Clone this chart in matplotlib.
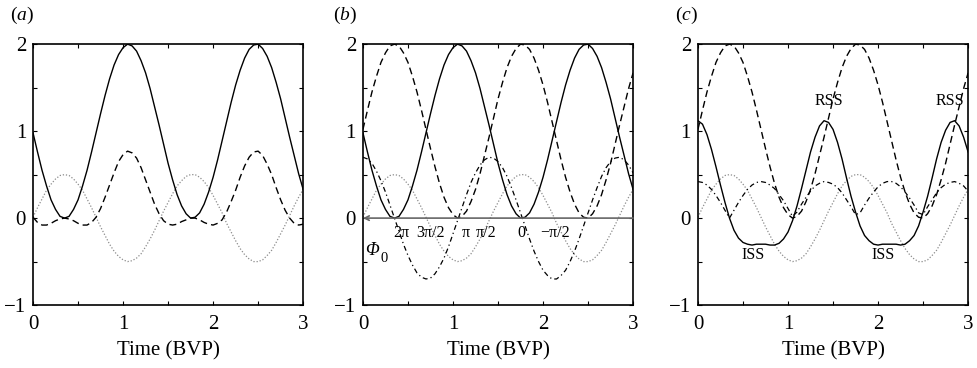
import matplotlib
matplotlib.use('Agg')
import matplotlib.pyplot as plt
from matplotlib.ticker import MultipleLocator, FuncFormatter

plt.rcParams['font.family'] = ['Liberation Serif', 'DejaVu Serif']
plt.rcParams['mathtext.fontset'] = 'custom'
plt.rcParams['mathtext.rm'] = 'Liberation Serif'
plt.rcParams['mathtext.it'] = 'Liberation Serif:italic'

# time axis (BVP), sampled every 0.05
t = [0.00, 0.05, 0.10, 0.15, 0.20, 0.25, 0.30, 0.35, 0.40, 0.45,
     0.50, 0.55, 0.60, 0.65, 0.70, 0.75, 0.80, 0.85, 0.90, 0.95,
     1.00, 1.05, 1.10, 1.15, 1.20, 1.25, 1.30, 1.35, 1.40, 1.45,
     1.50, 1.55, 1.60, 1.65, 1.70, 1.75, 1.80, 1.85, 1.90, 1.95,
     2.00, 2.05, 2.10, 2.15, 2.20, 2.25, 2.30, 2.35, 2.40, 2.45,
     2.50, 2.55, 2.60, 2.65, 2.70, 2.75, 2.80, 2.85, 2.90, 2.95, 3.00]

# dotted grey curve (same in all panels)
forcing = [0.01, 0.12, 0.22, 0.32, 0.39, 0.45, 0.49, 0.50,
           0.49, 0.45, 0.39, 0.32, 0.22, 0.12, 0.01,
           -0.10, -0.20, -0.30, -0.38, -0.44, -0.48, -0.50,
           -0.49, -0.46, -0.41, -0.33, -0.24, -0.14, -0.03,
           0.08, 0.18, 0.28, 0.37, 0.43, 0.48, 0.50,
           0.50, 0.47, 0.42, 0.35, 0.26, 0.16, 0.06,
           -0.06, -0.16, -0.26, -0.35, -0.42, -0.47, -0.50,
           -0.50, -0.48, -0.43, -0.37, -0.28, -0.18, -0.08,
           0.03, 0.14, 0.24, 0.33]

# solid curve in (a) and (b)
solid_ab = [0.98, 0.76, 0.55, 0.37, 0.21, 0.10, 0.02, 0.00,
            0.02, 0.10, 0.21, 0.37, 0.55, 0.76, 0.98,
            1.20, 1.41, 1.60, 1.76, 1.88, 1.96, 2.00,
            1.98, 1.92, 1.81, 1.67, 1.49, 1.28, 1.07,
            0.85, 0.63, 0.44, 0.27, 0.14, 0.05, 0.00,
            0.01, 0.06, 0.16, 0.30, 0.47, 0.67, 0.89,
            1.11, 1.33, 1.53, 1.70, 1.84, 1.94, 1.99,
            2.00, 1.95, 1.86, 1.73, 1.56, 1.37, 1.15,
            0.93, 0.72, 0.51, 0.33]

# dashed curve in (a)
dashed_a = [0.01, -0.05, -0.08, -0.08, -0.06, -0.03, -0.01, 0.00,
            -0.01, -0.03, -0.06, -0.08, -0.08, -0.05, 0.01,
            0.11, 0.24, 0.38, 0.52, 0.65, 0.73, 0.77,
            0.75, 0.69, 0.58, 0.44, 0.30, 0.16, 0.05,
            -0.03, -0.07, -0.08, -0.07, -0.04, -0.02, 0.00,
            0.00, -0.02, -0.05, -0.07, -0.08, -0.06, -0.02,
            0.07, 0.19, 0.32, 0.47, 0.60, 0.70, 0.76,
            0.77, 0.72, 0.62, 0.50, 0.35, 0.21, 0.09,
            0.00, -0.06, -0.08, -0.07]

# dashed curve in (b) and (c)
dashed_bc = [1.02, 1.24, 1.45, 1.63, 1.79, 1.90, 1.98, 2.00,
             1.98, 1.90, 1.79, 1.63, 1.45, 1.24, 1.02,
             0.80, 0.59, 0.40, 0.24, 0.12, 0.04, 0.00,
             0.02, 0.08, 0.19, 0.33, 0.51, 0.72, 0.93,
             1.15, 1.37, 1.56, 1.73, 1.86, 1.95, 2.00,
             1.99, 1.94, 1.84, 1.70, 1.53, 1.33, 1.11,
             0.89, 0.67, 0.47, 0.30, 0.16, 0.06, 0.01,
             0.00, 0.05, 0.14, 0.27, 0.44, 0.63, 0.85,
             1.07, 1.28, 1.49, 1.67]

# dash-dot curve in (b)
dashdot_b = [0.70, 0.68, 0.63, 0.54, 0.43, 0.30, 0.15, 0.00,
             -0.15, -0.30, -0.43, -0.54, -0.63, -0.68, -0.70,
             -0.69, -0.64, -0.56, -0.46, -0.33, -0.18, -0.03,
             0.12, 0.27, 0.41, 0.52, 0.61, 0.67, 0.70,
             0.69, 0.65, 0.58, 0.48, 0.35, 0.21, 0.06,
             -0.09, -0.24, -0.38, -0.50, -0.60, -0.66, -0.70,
             -0.70, -0.66, -0.60, -0.50, -0.38, -0.24, -0.09,
             0.06, 0.21, 0.35, 0.48, 0.58, 0.65, 0.69,
             0.70, 0.67, 0.61, 0.52]

# dash-dot curve in (c)
dashdot_c = [0.42, 0.41, 0.38, 0.33, 0.26, 0.18, 0.09, 0.00,
             0.09, 0.18, 0.26, 0.33, 0.38, 0.41, 0.42,
             0.41, 0.38, 0.34, 0.27, 0.20, 0.11, 0.02,
             0.07, 0.16, 0.24, 0.31, 0.37, 0.40, 0.42,
             0.41, 0.39, 0.35, 0.29, 0.21, 0.13, 0.04,
             0.06, 0.15, 0.23, 0.30, 0.36, 0.40, 0.42,
             0.42, 0.40, 0.36, 0.30, 0.23, 0.15, 0.06,
             0.04, 0.13, 0.21, 0.29, 0.35, 0.39, 0.41,
             0.42, 0.40, 0.37, 0.31]

# solid curve in (c)
solid_c = [1.12, 1.08, 0.96, 0.79, 0.59, 0.38, 0.18, 0.00,
           -0.14, -0.23, -0.28, -0.30, -0.31, -0.30, -0.30,
           -0.30, -0.31, -0.31, -0.29, -0.24, -0.16, -0.03,
           0.14, 0.34, 0.55, 0.76, 0.93, 1.06, 1.12,
           1.10, 1.02, 0.87, 0.68, 0.46, 0.25, 0.07,
           -0.09, -0.20, -0.26, -0.30, -0.31, -0.30, -0.30,
           -0.30, -0.30, -0.31, -0.30, -0.26, -0.20, -0.09,
           0.07, 0.25, 0.46, 0.68, 0.87, 1.01, 1.10,
           1.12, 1.06, 0.93, 0.76]

phase_labels = ['2\u03c0', '3\u03c0/2', '\u03c0', '\u03c0/2', '0', '\u2212\u03c0/2']
phase_pos = [0.43, 0.75, 1.14, 1.37, 1.76, 2.13]

rss_pos = [(1.45, 1.35), (2.80, 1.35)]
iss_pos = [(0.61, -0.43), (2.06, -0.43)]

fig = plt.figure(figsize=(9.77, 3.68), dpi=100)
lefts = [0.0338, 0.3715, 0.7144]
label_x = [-0.085, -0.11, -0.085]
axes = [fig.add_axes([l, 0.171, 0.2765, 0.709]) for l in lefts]

def int_label(v, pos):
    if abs(v - round(v)) < 1e-6:
        return '%d' % round(v) if v >= 0 else '\u2212%d' % abs(round(v))
    return ''

for ax, letter, lx in zip(axes, 'abc', label_x):
    ax.set_xlim(0, 3)
    ax.set_ylim(-1, 2)
    ax.xaxis.set_major_locator(MultipleLocator(0.5))
    ax.yaxis.set_major_locator(MultipleLocator(0.5))
    ax.xaxis.set_major_formatter(FuncFormatter(int_label))
    ax.yaxis.set_major_formatter(FuncFormatter(int_label))
    ax.tick_params(direction='in', length=3, width=0.8, top=True, right=True,
                   labelsize=15)
    ax.tick_params(axis='x', pad=7)
    ax.tick_params(axis='y', pad=5)
    for sp in ax.spines.values():
        sp.set_linewidth(1.2)
    ax.set_xlabel('Time (BVP)', fontsize=15, labelpad=5)
    ax.text(lx, 1.111, '(' + r'$%s$' % letter + ')', transform=ax.transAxes,
            fontsize=14, ha='left', va='center')
    ax.plot(t, forcing, color='0.55', lw=0.9, linestyle=(0, (1, 1.5)))

ax = axes[0]
ax.plot(t, solid_ab, color='black', lw=1.0)
ax.plot(t, dashed_a, color='black', lw=1.0, linestyle=(0, (5, 3)))

ax = axes[1]
ax.annotate('', xy=(0, 0), xytext=(3, 0), xycoords='data',
            arrowprops=dict(arrowstyle='->', color='0.4', lw=1.2,
                            shrinkA=0, shrinkB=0, mutation_scale=8),
            annotation_clip=False)
ax.plot(t, solid_ab, color='black', lw=1.0)
ax.plot(t, dashed_bc, color='black', lw=1.0, linestyle=(0, (5, 3)))
ax.plot(t, dashdot_b, color='black', lw=0.9, linestyle=(0, (4, 2.5, 1, 2.5)))
for lab, x in zip(phase_labels, phase_pos):
    ax.text(x, -0.08, lab, fontsize=11.5, ha='center', va='top')
# Phi_0 label: italic Phi with a subscript zero
ax.text(0.02, -0.37, '\u03a6', fontsize=13, style='italic', ha='left', va='center')
ax.text(0.19, -0.46, '0', fontsize=10.5, ha='left', va='center')

ax = axes[2]
ax.plot(t, solid_c, color='black', lw=1.0)
ax.plot(t, dashed_bc, color='black', lw=1.0, linestyle=(0, (5, 3)))
ax.plot(t, dashdot_c, color='black', lw=0.9, linestyle=(0, (4, 2.5, 1, 2.5)))
for x, y in rss_pos:
    ax.text(x, y, 'RSS', fontsize=11.5, ha='center', va='center')
for x, y in iss_pos:
    ax.text(x, y, 'ISS', fontsize=11.5, ha='center', va='center')

fig.savefig('out.png', dpi=100)
